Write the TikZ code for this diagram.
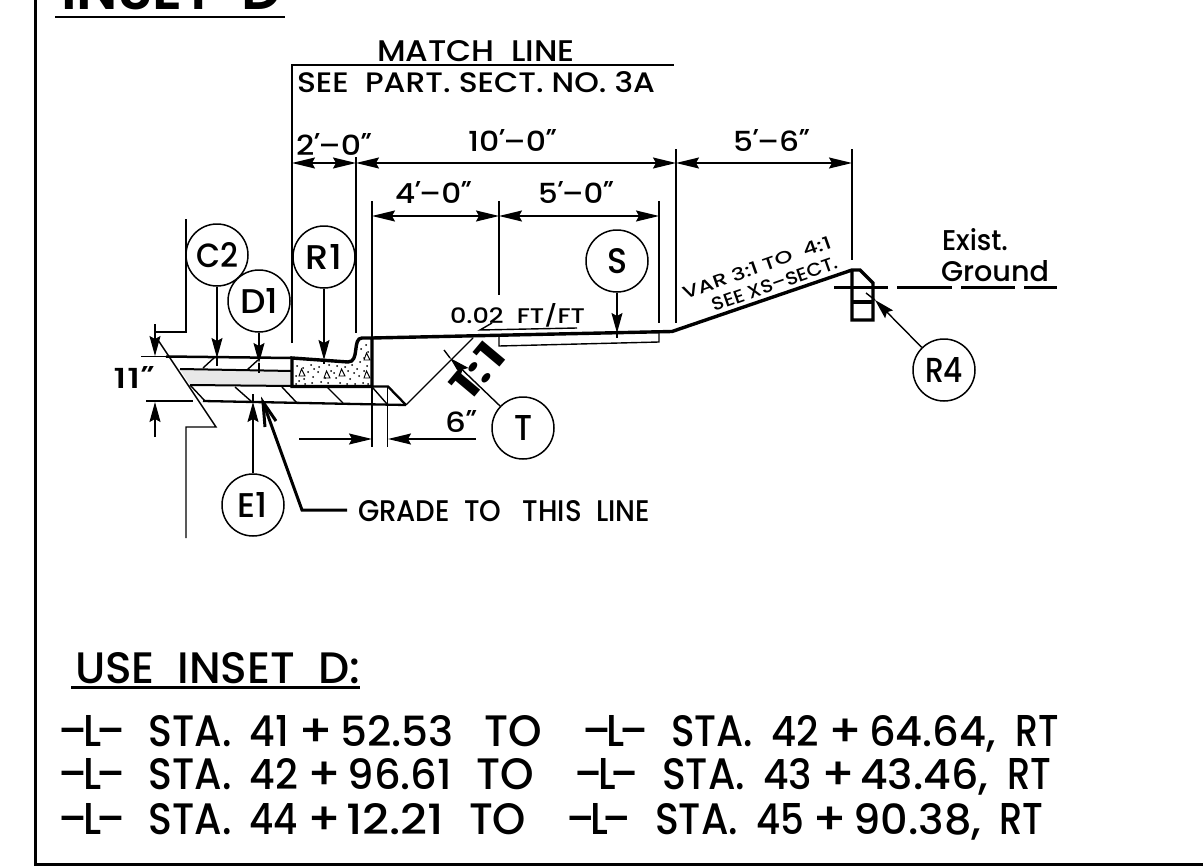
\documentclass[tikz,border=0pt]{standalone}
\usepackage{graphicx}
\usepackage{fontspec}
\setmainfont{Poppins Medium}[BoldFont={Poppins SemiBold}]
\newfontfamily\primefont[FakeSlant=0.35]{Poppins Medium}
\usetikzlibrary{arrows.meta}
\newcommand{\fitt}[3]{\resizebox{#1pt}{#2pt}{\vphantom{H}#3}}
\newcommand{\ft}{{\primefont\kern-0.24em '\kern0.2em}}
\newcommand{\inc}{{\primefont\kern-0.24em "\kern0.2em}}
\newcommand{\seg}[2]{\fitt{#1}{31}{#2}}
\newcommand{\lname}{–\kern-0.1em L\kern-0.14em–}
\tikzset{
  lbl/.style={anchor=base west,inner sep=0pt,outer sep=0pt},
  rlbl/.style={anchor=base,inner sep=0pt,outer sep=0pt,rotate=19.4},
  tag/.style={circle,draw=black,line width=1.5pt,minimum size=62pt,inner sep=0pt,fill=white},
  thinl/.style={line width=1.4pt,line cap=butt},
  heavy/.style={line width=3.4pt,line join=miter},
  ptr/.style={line width=1.4pt,-{Stealth[length=20pt,width=11pt,inset=3pt]}},
  dim/.style={line width=1.4pt,{Stealth[length=23pt,width=11pt,inset=3pt]}-{Stealth[length=23pt,width=11pt,inset=3pt]}},
  dimr/.style={line width=1.4pt,-{Stealth[length=23pt,width=11pt,inset=3pt]}},
}
\begin{document}
\begin{tikzpicture}[x=1pt,y=-1pt]
\useasboundingbox (0,0) rectangle (1203,867);
\clip (0,0) rectangle (1203,867);
% frame
\coordinate (ftl) at (35,0);
\coordinate (fbl) at (35,864.5);
\coordinate (fbr) at (1203,864.5);
\draw[line width=3pt,line join=miter] (ftl) -- (fbl) -- (fbr);
% heading
\node[lbl] (title) at (61,9.5) {\fitt{221}{40}{\bfseries INSET\ \ D}};
\coordinate (tu1) at (55,17); \coordinate (tu2) at (285,17);
\draw[line width=2.5pt] (tu1) -- (tu2);
% match line
\node[lbl] (match) at (377,62) {\fitt{198}{21}{MATCH\ \ LINE}};
\node[lbl] (seepart) at (297,93) {\fitt{358}{21}{SEE\ \ PART.\ SECT.\ NO.\ 3A}};
% extension lines
\coordinate (e1a) at (292,65); \coordinate (e1b) at (292,343);
\coordinate (e1c) at (674,65);
\draw[thinl,line join=miter] (e1b) -- (e1a) -- (e1c);
\coordinate (e2a) at (356,157); \coordinate (e2b) at (356,333);
\draw[thinl] (e2a) -- (e2b);
\coordinate (e3a) at (372,201); \coordinate (e3b) at (372,338);
\draw[thinl] (e3a) -- (e3b);
\coordinate (e4a) at (499,201); \coordinate (e4b) at (499,295);
\draw[thinl] (e4a) -- (e4b);
\coordinate (e5a) at (659,201); \coordinate (e5b) at (659,323);
\draw[thinl] (e5a) -- (e5b);
\coordinate (e6a) at (676,149); \coordinate (e6b) at (676,323);
\draw[thinl] (e6a) -- (e6b);
\coordinate (e7a) at (852,149); \coordinate (e7b) at (852,260);
\draw[thinl] (e7a) -- (e7b);
% dimensions
\coordinate (d1) at (292,163); \coordinate (d2) at (356,163);
\coordinate (d3) at (676,163); \coordinate (d4) at (852,163);
\coordinate (d5) at (372,216); \coordinate (d6) at (499,216); \coordinate (d7) at (659,216);
\draw[dim] (d1) -- (d2);
\draw[dim] (d2) -- (d3);
\draw[dim] (d3) -- (d4);
\draw[dim] (d5) -- (d6);
\draw[dim] (d6) -- (d7);
\node[lbl] (t2) at (296,155) {\fitt{74}{22}{2\ft–0\inc}};
\node[lbl] (t10) at (468,152) {\fitt{87}{22}{10\ft–0\inc}};
\node[lbl] (t56) at (733,152) {\fitt{75}{22}{5\ft–6\inc}};
\node[lbl] (t4) at (395,203) {\fitt{75}{22}{4\ft–0\inc}};
\node[lbl] (t5) at (538,203) {\fitt{74}{22}{5\ft–0\inc}};
% break line
\coordinate (b0) at (186,219); \coordinate (b1) at (186,332); \coordinate (b2) at (155,332);
\coordinate (b3) at (158,340); \coordinate (b4) at (216,427); \coordinate (b5) at (186,427);
\coordinate (b6) at (186,538);
\draw[thinl,line join=miter] (b0) -- (b1) -- (b2);
\draw[thinl,line join=miter] (b3) -- (b4) -- (b5) -- (b6);
% gray layer
\coordinate (g1) at (180,369); \coordinate (g2) at (292,371);
\coordinate (g3) at (292,386); \coordinate (g4) at (190,385);
\fill[black!9] (g1) -- (g2) -- (g3) -- (g4) -- cycle;
\draw[line width=2pt] (g1) -- (g2);
\draw[line width=2pt] (g4) -- (g3);
% pavement top
\coordinate (s0) at (141,356.5); \coordinate (s1) at (166,356.5); \coordinate (s2) at (292,358);
\draw[thinl] (s0) -- (s1);
\draw[line width=2.5pt] (s1) -- (s2);
% hatching
\foreach \ax/\ay/\bx/\by in {203/368/215/357, 247/370/258/360, 190/385/205/401, 235/387/252/402, 282/387/297/403, 327/387/343/403, 373/388/387/404}
  \draw[thinl] (\ax,\ay) -- (\bx,\by);
% base bottom
\coordinate (u1) at (203,401); \coordinate (u2) at (406,405);
\draw[line width=2.3pt] (u1) -- (u2);
% stipple
\foreach \x/\y in {297/366,303/368,311/365,319/367,329/365,337/366,345/367,352/365,360/362,364/358,368/352,361/349,366/345,
 296/376,299/381,308/372,313/377,318/372,321/382,331/371,336/378,340/383,348/371,350/379,357/369,359/376,363/383,367/366,
 296/384,305/384,312/383,328/383,347/384,355/384,368/384,314/369,325/378,354/373,364/371,304/379,334/373}
  \fill (\x,\y) circle[radius=1pt];
\foreach \x/\y in {302/373,327/375,342/373,367/357,367/375}
  \draw[line width=0.9pt] (\x-3,\y+3) -- (\x+3,\y+3) -- (\x-0.5,\y-4) -- cycle;
% concrete curb and surface
\coordinate (k1) at (292,386.5); \coordinate (k2) at (292,358); \coordinate (k3) at (348,362);
\coordinate (k4) at (362,338); \coordinate (k5) at (372,338); \coordinate (k6) at (372,386.5);
\coordinate (k7) at (388,386.5); \coordinate (k8) at (406,405);
\draw[heavy] (k1) -- (k2) -- (k3) .. controls (360,362) and (352,338) .. (k4) -- (k5) -- (k6) -- cycle;
\draw[line width=2.3pt] (k6) -- (k7) -- (k8);
\coordinate (r1) at (672,331.5); \coordinate (r2) at (852,270); \coordinate (r3) at (860,270);
\coordinate (r4) at (873,283); \coordinate (r5) at (873,320); \coordinate (r6) at (852,320);
\draw[heavy] (k5) -- (r1) -- (r2) -- (r3) -- (r4) -- (r5) -- (r6) -- (r2);
\coordinate (r7) at (852,302); \coordinate (r8) at (873,302);
\draw[heavy] (r7) -- (r8);
% ground
\foreach \a/\b in {834/888,897/952,961/1015,1024/1057}
  \draw[line width=3pt] (\a,287) -- (\b,287);
\node[lbl] (exist) at (942,250) {\fitt{66}{22}{Exist.}};
\node[lbl] (ground) at (941,281) {\fitt{108}{21}{Ground}};
% slab under slope
\coordinate (p1) at (499,337); \coordinate (p2) at (499,346); \coordinate (p3) at (659,342); \coordinate (p4) at (659,333);
\draw[thinl,line join=miter] (p1) -- (p2) -- (p3) -- (p4);
% slope line
\coordinate (m1) at (473,338);
\draw[line width=1.4pt] (k8) -- (m1);
% slope label
\coordinate (f1) at (480,330); \coordinate (f2) at (492,323); \coordinate (f3) at (577,328);
\draw[line width=1.4pt] (f2) -- (f1) -- (f3);
\node[lbl] (slope) at (450,323) {\fitt{135}{20}{0.02\ \ FT/FT}};
% 11 inch dimension
\coordinate (h1) at (155,324); \coordinate (h2) at (155,356); \coordinate (h3) at (155,437); \coordinate (h4) at (155,402);
\coordinate (h5) at (146,401); \coordinate (h6) at (193,401);
\draw[ptr] (h1) -- (h2);
\draw[ptr] (h3) -- (h4);
\draw[thinl] (h5) -- (h6);
\node[lbl] (t11) at (113,388) {\fitt{39}{22}{11\inc}};
% 6 inch dimension
\coordinate (i1) at (372,387); \coordinate (i2) at (372,447);
\coordinate (i3) at (387.5,387); \coordinate (i4) at (387.5,447);
\draw[thinl] (i1) -- (i2); \draw[thinl] (i3) -- (i4);
\coordinate (i5) at (299,439); \coordinate (i6) at (372,439);
\coordinate (i7) at (476,439); \coordinate (i8) at (388,439);
\draw[dimr] (i5) -- (i6);
\draw[dimr] (i7) -- (i8);
\node[lbl] (t6) at (445,432) {\fitt{30}{22}{6\inc}};
% callouts
\node[tag] (C2) at (217,255) {\fitt{42}{25}{C2}};
\node[tag] (D1) at (259,301) {\fitt{38}{25}{D1}};
\node[tag] (R1) at (324,257) {\fitt{36}{25}{R1}};
\node[tag] (S) at (617,261) {\fitt{20}{25}{S}};
\node[tag] (T) at (523,428) {\fitt{18}{25}{T}};
\node[tag] (E1) at (253,505) {\fitt{30}{25}{E1}};
\node[tag] (R4) at (944,370) {\fitt{38}{25}{R4}};
\coordinate (C2h) at (217,358); \coordinate (C2e) at (217,366);
\coordinate (D1h) at (259,363); \coordinate (D1e) at (259,373);
\coordinate (R1h) at (324,360); \coordinate (R1e) at (324,364);
\coordinate (Sh) at (617,333); \coordinate (Se) at (617,338);
\coordinate (Th) at (450,358); \coordinate (Te) at (444,350);
\coordinate (E1h) at (253,402); \coordinate (E1e) at (253,394);
\coordinate (R4h) at (875,300); \coordinate (R4e) at (866,293);
\draw[thinl] (C2h) -- (C2e);
\draw[thinl] (D1h) -- (D1e);
\draw[thinl] (R1h) -- (R1e);
\draw[thinl] (Sh) -- (Se);
\draw[thinl] (Th) -- (Te);
\draw[thinl] (E1h) -- (E1e);
\draw[thinl] (R4h) -- (R4e);
\draw[ptr] (C2) -- (C2h);
\draw[ptr] (D1) -- (D1h);
\draw[ptr] (R1) -- (R1h);
\draw[ptr] (S) -- (Sh);
\draw[ptr] (T) -- (Th);
\draw[ptr] (E1) -- (E1h);
\draw[ptr] (R4) -- (R4h);
% 1:1
\node[anchor=base,inner sep=0pt,rotate=50] (oneone) at (489,380) {\fitt{62}{30}{\bfseries 1:1}};
% slope text
\node[rlbl] (var) at (759,273.5) {\fitt{156}{13}{VAR\ 3:1\ TO\ \ 4:1}};
\node[rlbl] (xs) at (777,290) {\fitt{132}{13}{SEE\ XS–SECT.}};
% grade to this line
\node[lbl] (grade) at (358,521) {\fitt{292}{21}{GRADE\ \ TO\ \ \ THIS\ \ LINE}};
\coordinate (gr1) at (302,510); \coordinate (grt) at (263,402); \coordinate (gb1) at (265,427); \coordinate (gb2) at (276,421);
\draw[line width=3pt,line join=miter] (grade.west |- gr1) ++(-11,0) -- (gr1) -- (grt);
\draw[line width=3pt] (gb1) -- (grt) -- (gb2);
% use inset
\node[lbl] (use) at (75,683) {\fitt{285}{31}{USE\ \ INSET\ \ D:}};
\coordinate (uu1) at (71,687.5); \coordinate (uu2) at (360,687.5);
\draw[line width=2.5pt] (uu1) -- (uu2);
% stations
\node[lbl] (l1) at (59,746) {\seg{66}{\lname}\hspace{23.5pt}\seg{83}{STA.}\hspace{18pt}\seg{39.5}{41}\hspace{9pt}\seg{35}{+}\hspace{7pt}\seg{113.5}{52.53}\hspace{30.5pt}\seg{57.5}{TO}\hspace{40.5pt}\seg{66}{\lname}\hspace{23pt}\seg{82}{STA.}\hspace{18.5pt}\seg{47.5}{42}\hspace{9pt}\seg{34}{+}\hspace{7pt}\seg{127}{64.64,}\hspace{19pt}\seg{43.5}{RT}};
\node[lbl] (l2) at (59,789) {\seg{66}{\lname}\hspace{23.5pt}\seg{83}{STA.}\hspace{18pt}\seg{48.5}{42}\hspace{9pt}\seg{34}{+}\hspace{6.5pt}\seg{104.5}{96.61}\hspace{24.5pt}\seg{57.5}{TO}\hspace{40pt}\seg{64}{\lname}\hspace{24pt}\seg{83}{STA.}\hspace{18pt}\seg{49}{43}\hspace{9pt}\seg{34}{+}\hspace{5pt}\seg{128}{43.46,}\hspace{19pt}\seg{44}{RT}};
\node[lbl] (l3) at (59,834) {\seg{66}{\lname}\hspace{23.5pt}\seg{83}{STA.}\hspace{18pt}\seg{48.5}{44}\hspace{9pt}\seg{34}{+}\hspace{5pt}\seg{98}{12.21}\hspace{25pt}\seg{57}{TO}\hspace{40pt}\seg{65}{\lname}\hspace{24pt}\seg{83}{STA.}\hspace{18pt}\seg{48}{45}\hspace{8pt}\seg{35}{+}\hspace{6pt}\seg{128}{90.38,}\hspace{18pt}\seg{44}{RT}};
\end{tikzpicture}
\end{document}
